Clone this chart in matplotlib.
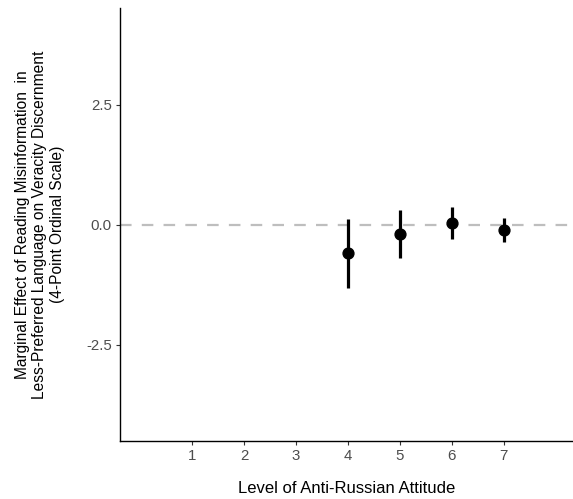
import matplotlib
matplotlib.use("Agg")
import matplotlib.pyplot as plt

# Level of anti-Russian attitude and marginal effect estimates
levels = [4, 5, 6, 7]
effects = [-0.59, -0.19, 0.04, -0.10]
ci_low = [-1.32, -0.69, -0.30, -0.35]
ci_high = [0.13, 0.31, 0.37, 0.15]
xticks = [1, 2, 3, 4, 5, 6, 7]
yticks = [-2.5, 0.0, 2.5]

plt.rcParams["font.family"] = ["Liberation Sans", "DejaVu Sans"]

fig = plt.figure(figsize=(5.73, 4.99), dpi=100)
ax = fig.add_axes([120 / 573, 58 / 499, 453 / 573, 433 / 499])

ax.axhline(0, color="#BEBEBE", lw=1.6, ls=(0, (5.2, 4.6)), zorder=1)
ax.vlines(levels, ci_low, ci_high, color="black", lw=2.3, zorder=2)
ax.plot(levels, effects, "o", color="black", ms=7.8, zorder=3)

ax.set_xlim(-0.385, 8.33)
ax.set_ylim(-4.5, 4.52)
ax.set_xticks(xticks)
ax.set_yticks(yticks)
ax.set_yticklabels([f"{v:.1f}" for v in yticks])

for side in ("top", "right"):
    ax.spines[side].set_visible(False)
for side in ("left", "bottom"):
    ax.spines[side].set_linewidth(1.0)
ax.tick_params(colors="#333333", labelcolor="#4D4D4D", labelsize=10.8,
               length=3, width=0.8, pad=3)

ax.set_xlabel("Level of Anti-Russian Attitude", fontsize=12, labelpad=13)
ax.set_ylabel("Marginal Effect of Reading Misinformation  in\n"
              "Less-Preferred Language on Veracity Discernment\n"
              "(4-Point Ordinal Scale)", fontsize=11.2, labelpad=15,
              linespacing=1.22)

fig.savefig("out.png", dpi=100)
